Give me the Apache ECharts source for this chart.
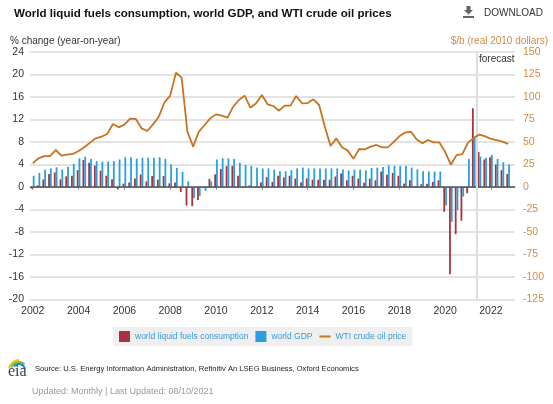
<!DOCTYPE html>
<html>
<head>
<meta charset="utf-8">
<script src="https://cdn.jsdelivr.net/npm/echarts@6/dist/echarts.min.js"></script>
<style>
html, body { margin: 0; padding: 0; background: #fff; }
#chart { width: 553px; height: 404px; }
</style>
</head>
<body>
<div id="chart"></div>
<script>
// quarterly values, 2002Q1 .. 2022Q4
var fuels = [-0.3, 0.3, 1.35, 2.3, 2.6, 1.35, 1.9, 2.0, 3.0, 4.8, 4.3, 3.8, 2.9, 2.0, 1.4, -0.4,
    0.6, 0.8, 1.5, 2.2, 1.0, 1.95, 1.3, 1.95, 0.65, 0.8, -0.9, -3.3, -3.4, -2.3, -0.1, 1.45,
    2.25, 3.2, 3.7, 3.75, 2.0, 0.1, 0.3, 0.05, 0.8, 1.75, 0.9, 2.0, 1.7, 2.0, 1.5, 0.8,
    1.5, 1.3, 1.3, 1.3, 1.3, 1.85, 2.4, 1.2, 2.0, 1.5, 0.75, 1.5, 1.2, 2.75, 2.2, 2.5,
    2.0, 0.6, 1.2, 0.2, 0.5, 0.6, 0.9, 1.2, -4.4, -15.5, -8.4, -6.0, -1.1, 14.0, 6.2, 4.9,
    5.3, 4.0, 3.0, 2.3];
var gdp = [2.0, 2.5, 3.1, 3.3, 3.5, 3.1, 3.6, 4.1, 5.1, 5.4, 5.0, 4.6, 4.5, 4.5, 4.6, 4.9,
    5.3, 5.3, 5.05, 5.2, 5.2, 5.2, 5.3, 5.0, 4.0, 3.4, 2.7, 1.0, -2.0, -1.6, -0.7, 1.0,
    4.9, 5.1, 5.1, 5.0, 4.3, 3.9, 3.75, 3.45, 3.3, 3.3, 3.1, 2.8, 2.8, 3.0, 3.3, 3.45,
    3.3, 3.3, 3.3, 3.3, 3.3, 3.3, 3.1, 2.95, 3.1, 3.1, 2.95, 3.4, 3.45, 3.55, 3.85, 3.75,
    3.75, 3.75, 3.45, 3.15, 2.8, 2.75, 2.75, 2.75, -3.3, -6.2, -4.1, -1.7, 5.0, 8.7, 5.4, 5.2,
    5.7, 5.0, 4.4, 4.0];
var wti = [26.3, 31.9, 34.4, 34.4, 41.1, 34.8, 35.9, 36.7, 40.0, 44.1, 49.3, 54.1, 55.9, 58.9, 70.0, 66.3,
    69.3, 75.9, 75.6, 65.2, 62.2, 69.6, 78.1, 94.1, 101.5, 127.0, 121.5, 61.5, 44.8, 61.5, 68.9, 76.3,
    80.7, 79.3, 77.0, 89.3, 96.7, 101.5, 88.1, 93.0, 102.2, 91.9, 90.0, 84.8, 90.4, 90.4, 101.1, 93.0,
    93.3, 97.4, 91.1, 67.0, 45.6, 54.0, 44.1, 40.4, 31.5, 42.2, 41.8, 44.8, 46.7, 44.1, 44.1, 49.8,
    56.3, 60.5, 61.6, 53.0, 48.5, 52.2, 49.5, 49.5, 39.0, 24.8, 35.4, 36.5, 49.3, 54.6, 58.3, 56.3,
    53.5, 52.2, 50.4, 48.0];
var yearTicks = [2002, 2004, 2006, 2008, 2010, 2012, 2014, 2016, 2018, 2020, 2022];
var forecastStart = 2021.4;

var quarters = [];
for (var i = 0; i < wti.length; i++) quarters.push(2002 + i * 0.25);
function pairs(vals) {
    return vals.map(function (v, k) { return [quarters[k], v]; });
}

var FONT = 'Liberation Sans, Arial, sans-serif';
var chart = echarts.init(document.getElementById('chart'), null, { renderer: 'canvas' });

var option = {
    animation: false,
    textStyle: { fontFamily: FONT },
    title: {
        text: 'World liquid fuels consumption, world GDP, and WTI crude oil prices',
        left: 9, top: 3,
        textStyle: { fontSize: 11.6, fontWeight: 'bold', color: '#111' }
    },
    legend: {
        left: 113, top: 327,
        backgroundColor: '#efefef',
        padding: [4, 6, 4, 6],
        itemGap: 7, itemWidth: 11, itemHeight: 11,
        textStyle: { color: '#3d9ad6', fontSize: 8.5 },
        data: [
            { name: 'world liquid fuels consumption', icon: 'rect' },
            { name: 'world GDP', icon: 'rect' },
            { name: 'WTI crude oil price', icon: 'path://M0,0L1,0L1,0.001ZM0,5L12,5L12,7L0,7ZM11,11.999L12,12L11,12Z' }
        ]
    },
    grid: { left: 30, right: 38, top: 52, bottom: 104.5 },
    xAxis: {
        type: 'value',
        min: 2001.88, max: 2023.05,
        axisLine: { lineStyle: { color: '#999' } },
        axisTick: { customValues: yearTicks, length: 3, lineStyle: { color: '#999' } },
        axisLabel: {
            customValues: yearTicks, color: '#333', fontSize: 10.5, margin: 6,
            formatter: function (v) { return String(Math.round(v)); }
        },
        splitLine: { show: false }
    },
    yAxis: [{
        type: 'value', min: -20, max: 24, interval: 4,
        axisLine: { show: false }, axisTick: { show: false },
        axisLabel: { color: '#333', fontSize: 10.5, margin: 6 },
        splitLine: { lineStyle: { color: '#dadada', width: 1.5 } }
    }, {
        type: 'value', min: -125, max: 150, interval: 25,
        axisLine: { show: false }, axisTick: { show: false },
        axisLabel: { color: '#d28a44', fontSize: 10.5, margin: 8 },
        splitLine: { show: false }
    }],
    series: [{
        name: 'world liquid fuels consumption',
        type: 'bar', yAxisIndex: 0,
        barWidth: 1.8, barGap: '0%',
        itemStyle: { color: '#a8323f' },
        data: pairs(fuels),
        markLine: {
            silent: true, symbol: 'none', label: { show: false },
            lineStyle: { color: '#5a5a5a', width: 1.5, type: 'solid' },
            data: [{ yAxis: 0 }]
        }
    }, {
        name: 'world GDP',
        type: 'bar', yAxisIndex: 0,
        barWidth: 1.8, barGap: '0%',
        itemStyle: { color: '#2b9fdc' },
        data: pairs(gdp)
    }, {
        name: 'WTI crude oil price',
        type: 'line', yAxisIndex: 1,
        symbol: 'none',
        lineStyle: { color: '#c7731f', width: 1.8 },
        itemStyle: { color: '#c7731f' },
        data: pairs(wti),
        z: 5,
        markLine: {
            silent: true, symbol: 'none', label: { show: false },
            lineStyle: { color: '#dddddd', width: 2, type: 'solid' },
            data: [{ xAxis: forecastStart }]
        }
    }],
    graphic: [
        { type: 'rect', shape: { x: 463, y: 16, width: 11, height: 2 }, style: { fill: '#666' } },
        { type: 'polygon', shape: { points: [[466.5, 6], [470.5, 6], [470.5, 10], [473, 10], [468.5, 14.5], [464, 10], [466.5, 10]] }, style: { fill: '#666' } },
        { type: 'text', x: 484, y: 13, style: { text: 'DOWNLOAD', fill: '#333', verticalAlign: 'middle', font: '10px ' + FONT } },
        { type: 'text', x: 10, y: 41, style: { text: '% change (year-on-year)', fill: '#333', verticalAlign: 'middle', font: '10px ' + FONT } },
        { type: 'text', x: 548, y: 41, style: { text: '$/b (real 2010 dollars)', fill: '#d28a44', align: 'right', verticalAlign: 'middle', font: '10px ' + FONT } },
        { type: 'text', x: 479, y: 59, style: { text: 'forecast', fill: '#333', verticalAlign: 'middle', font: '10px ' + FONT } },
        { type: 'arc', shape: { cx: 19, cy: 370, r: 10, startAngle: Math.PI * 1.05, endAngle: Math.PI * 1.5 }, style: { stroke: '#f2c200', lineWidth: 2, fill: null } },
        { type: 'arc', shape: { cx: 19, cy: 370, r: 8, startAngle: Math.PI * 1.1, endAngle: Math.PI * 1.75 }, style: { stroke: '#7ab648', lineWidth: 2, fill: null } },
        { type: 'arc', shape: { cx: 19, cy: 370, r: 6, startAngle: Math.PI * 1.2, endAngle: Math.PI * 1.95 }, style: { stroke: '#1e88c7', lineWidth: 2, fill: null } },
        { type: 'text', x: 8, y: 372, style: { text: 'eia', fill: '#2f3f55', verticalAlign: 'middle', font: '16px Liberation Serif, serif' } },
        { type: 'text', x: 35, y: 369, style: { text: 'Source: U.S. Energy Information Administration, Refinitiv An LSEG Business, Oxford Economics', fill: '#222', verticalAlign: 'middle', font: '7.6px ' + FONT } },
        { type: 'text', x: 32, y: 392, style: { text: 'Updated: Monthly | Last Updated: 08/10/2021', fill: '#999', verticalAlign: 'middle', font: '9px ' + FONT } }
    ]
};

option && chart.setOption(option);
</script>
</body>
</html>
